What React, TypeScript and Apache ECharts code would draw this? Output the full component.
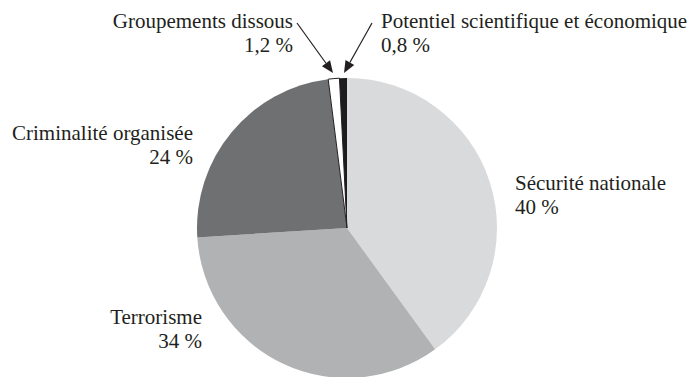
import React, { useEffect, useRef } from "react";
import * as echarts from "echarts";

const categories = [
  "Sécurité nationale",
  "Terrorisme",
  "Criminalité organisée",
  "Groupements dissous",
  "Potentiel scientifique et économique",
];
const shares = [40, 34, 24, 1.2, 0.8];
const colors = ["#d9dadb", "#b1b2b3", "#6f7072", "#ffffff", "#1c1c1e"];

// label anchor positions (layout only): first-line centre, right/left edge
const labelPos = [
  { x: 515, y: 183, align: "left" },
  { x: 202, y: 317, align: "right" },
  { x: 193, y: 133, align: "right" },
  { x: 293, y: 21, align: "right" },
  { x: 381, y: 21, align: "left" },
];
const LINE_GAP = 24;

// arrows: [startX, startY, tipX, tipY]
const arrows = [
  [297, 23, 333, 73],
  [372, 23, 344, 73],
];

const FONT = "Liberation Serif";
const TEXT = "#231f20";

function fmtShare(v: number) {
  return `${String(v).replace(".", ",")} %`;
}

function labelGraphics() {
  const els: any[] = [];
  categories.forEach((name, i) => {
    [name, fmtShare(shares[i])].forEach((line, k) => {
      els.push({
        type: "text",
        x: labelPos[i].x,
        y: labelPos[i].y + k * LINE_GAP,
        silent: true,
        style: {
          text: line,
          fontFamily: FONT,
          fontSize: 21,
          fill: TEXT,
          align: labelPos[i].align,
          verticalAlign: "middle",
        },
      });
    });
  });
  return els;
}

function arrowGraphics() {
  const els: any[] = [];
  arrows.forEach(([x1, y1, x2, y2]) => {
    const dx = x2 - x1;
    const dy = y2 - y1;
    const len = Math.sqrt(dx * dx + dy * dy);
    const ux = dx / len;
    const uy = dy / len;
    const hl = 12;
    const hw = 5;
    const bx = x2 - ux * hl;
    const by = y2 - uy * hl;
    els.push({
      type: "line",
      shape: { x1, y1, x2: bx, y2: by },
      style: { stroke: TEXT, lineWidth: 1.2 },
      silent: true,
    });
    els.push({
      type: "polygon",
      shape: {
        points: [
          [x2, y2],
          [bx - uy * hw, by + ux * hw],
          [bx + uy * hw, by - ux * hw],
        ],
      },
      style: { fill: TEXT },
      silent: true,
    });
  });
  return els;
}

export default function App() {
  const ref = useRef<HTMLDivElement>(null);
  useEffect(() => {
    if (!ref.current) return;
    const chart = echarts.init(ref.current, undefined, { renderer: "svg" });
    chart.setOption({
      animation: false,
      backgroundColor: "#ffffff",
      textStyle: { fontFamily: FONT },
      series: [
        {
          type: "pie",
          center: [347, 228],
          radius: 150,
          startAngle: 90,
          clockwise: true,
          data: categories.map((name, i) => ({
            name,
            value: shares[i],
            itemStyle: {
              color: colors[i],
              borderColor: i === 3 ? TEXT : colors[i],
              borderWidth: i === 3 ? 1 : 0,
            },
          })),
          label: { show: false },
          labelLine: { show: false },
          emphasis: { disabled: true },
        },
      ],
      graphic: [...labelGraphics(), ...arrowGraphics()],
    });
    return () => chart.dispose();
  }, []);
  return (
    <div
      ref={ref}
      style={{ position: "fixed", left: 0, top: 0, width: 695, height: 377 }}
    />
  );
}
